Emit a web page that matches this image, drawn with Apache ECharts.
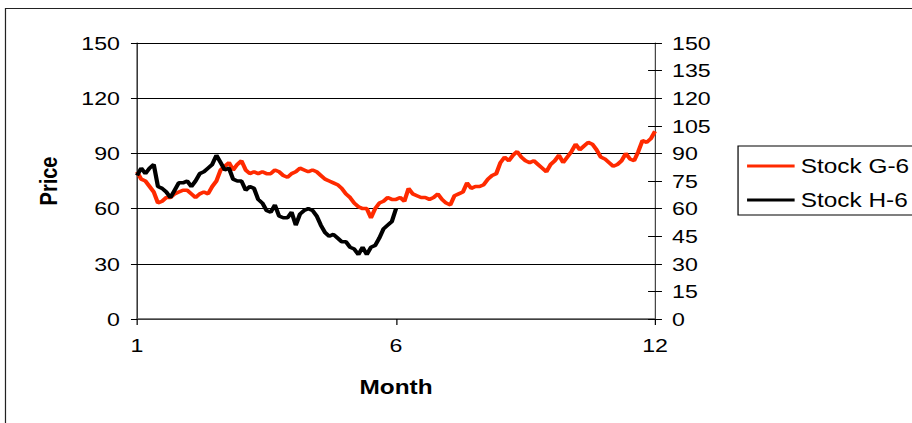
<!DOCTYPE html>
<html>
<head>
<meta charset="utf-8">
<title>Stock prices by month</title>
<script src="https://cdn.jsdelivr.net/npm/echarts@6/dist/echarts.min.js"></script>
<style>
  html, body { margin: 0; padding: 0; background: #fff; overflow: hidden; }
  #wrap { width: 912px; height: 423px; overflow: hidden; position: relative; }
  /* the chart is laid out narrower and stretched horizontally to the full width */
  #chart { width: 748px; height: 423px; transform-origin: 0 0; transform: scaleX(1.2193); }
</style>
</head>
<body>
<div id="wrap"><div id="chart"></div></div>
<script>
// trading points per month (12 months)
const monthPoints = [11, 10, 11, 10, 10, 11, 10, 11, 10, 11, 10, 10];

// closing prices, one per trading point
const stockG6 = [
  80, 76, 75, 72, 69, 63, 64, 66, 66, 68,
  69, 70, 70, 68, 66, 68, 69, 68, 72, 75,
  81, 83, 85, 81, 84, 86, 81, 79, 80, 79,
  80, 79, 79, 81, 80, 78, 77, 79, 80, 82,
  81, 80, 81, 80, 78, 76, 75, 74, 73, 71,
  68, 66, 63, 61, 60, 60, 55, 60, 63, 64,
  66, 65, 65, 66, 64, 71, 68, 67, 66, 66,
  65, 66, 68, 65, 63, 62, 67, 68, 69, 74,
  71, 72, 72, 73, 76, 78, 79, 85, 88, 86,
  89, 91, 88, 86, 85, 86, 84, 82, 80, 84,
  86, 89, 85, 88, 91, 95, 92, 94, 96, 95,
  92, 88, 87, 85, 83, 84, 86, 90, 87, 86,
  91, 97, 96, 98, 102
];
const stockH6 = [
  78, 82, 79, 82, 84, 72, 71, 69, 66, 70,
  74, 74, 75, 72, 75, 79, 80, 82, 84, 89,
  85, 81, 82, 76, 75, 75, 70, 72, 71, 65,
  63, 59, 58, 62, 56, 55, 55, 58, 51, 57,
  59, 60, 59, 56, 51, 47, 45, 46, 44, 42,
  42, 39, 38, 35, 39, 35, 39, 40, 44, 49,
  51, 53, 60
];

const seriesNames = ['Stock G-6', 'Stock H-6'];
const seriesColors = ['#ff2a00', '#000000'];

// month label of every trading point
const categories = [];
monthPoints.forEach((n, m) => { for (let k = 0; k < n; k++) categories.push(String(m + 1)); });

const labelStep = 62; // show a month label every 62 points
const showTick = (index) => index % labelStep === 0;

const font = "'Liberation Sans', Arial, sans-serif";
const textBase = { fontFamily: font, color: '#000' };

const chart = echarts.init(document.getElementById('chart'), null, { renderer: 'svg' });

const valueAxisCommon = { type: 'value', min: 0, max: 150 };

chart.setOption({
  animation: false,
  backgroundColor: '#fff',
  graphic: [{
    type: 'rect',
    shape: { x: 4.5, y: 8.5, width: 1000, height: 1000 },
    style: { fill: 'none', stroke: '#222', lineWidth: 1 },
    silent: true
  }],
  grid: { left: 112.4, right: 210.8, top: 43, bottom: 104 },
  legend: {
    data: seriesNames,
    orient: 'vertical',
    left: 605.3,
    top: 146,
    icon: 'rect',
    itemWidth: 39,
    itemHeight: 3,
    itemGap: 14,
    padding: [10, 40, 5, 7.4],
    borderColor: '#000',
    borderWidth: 1,
    textStyle: Object.assign({ fontSize: 20 }, textBase)
  },
  xAxis: {
    type: 'category',
    data: categories,
    boundaryGap: false,
    name: 'Month',
    nameLocation: 'middle',
    nameGap: 58,
    nameTextStyle: Object.assign({ fontSize: 20, fontWeight: 'bold' }, textBase),
    axisLine: { lineStyle: { color: '#555', width: 1.5 } },
    axisTick: { interval: showTick, length: 6, lineStyle: { color: '#000' } },
    axisLabel: Object.assign({ interval: showTick, fontSize: 19, margin: 17 }, textBase),
    splitLine: { show: false }
  },
  yAxis: [
    Object.assign({}, valueAxisCommon, {
      interval: 30,
      position: 'left',
      name: 'Price',
      nameLocation: 'middle',
      nameGap: 62,
      nameRotate: 90,
      nameTextStyle: Object.assign({ fontSize: 20, fontWeight: 'bold' }, textBase),
      axisLine: { show: true, lineStyle: { color: '#000', width: 1 } },
      axisTick: { show: true, length: 5, lineStyle: { color: '#000' } },
      axisLabel: Object.assign({ fontSize: 19, margin: 14 }, textBase),
      splitLine: { show: true, lineStyle: { color: '#000', width: 1 } }
    }),
    Object.assign({}, valueAxisCommon, {
      interval: 15,
      position: 'right',
      axisLine: { show: true, lineStyle: { color: '#444', width: 1 } },
      axisTick: { show: true, length: 5.7, lineStyle: { color: '#000' } },
      axisLabel: Object.assign({ fontSize: 19, margin: 14 }, textBase),
      splitLine: { show: false }
    }),
    // inner half of the cross tick marks on the right axis
    Object.assign({}, valueAxisCommon, {
      interval: 15,
      position: 'right',
      axisLine: { show: false },
      axisTick: { show: true, inside: true, length: 5.7, lineStyle: { color: '#000' } },
      axisLabel: { show: false },
      splitLine: { show: false }
    })
  ],
  series: [
    {
      name: seriesNames[0],
      type: 'line',
      yAxisIndex: 0,
      data: stockG6,
      symbol: 'none',
      color: seriesColors[0],
      lineStyle: { color: seriesColors[0], width: 3.5 },
      z: 3
    },
    {
      name: seriesNames[1],
      type: 'line',
      yAxisIndex: 1,
      data: stockH6,
      symbol: 'none',
      color: seriesColors[1],
      lineStyle: { color: seriesColors[1], width: 3.5 },
      z: 4
    }
  ]
});
</script>
</body>
</html>
